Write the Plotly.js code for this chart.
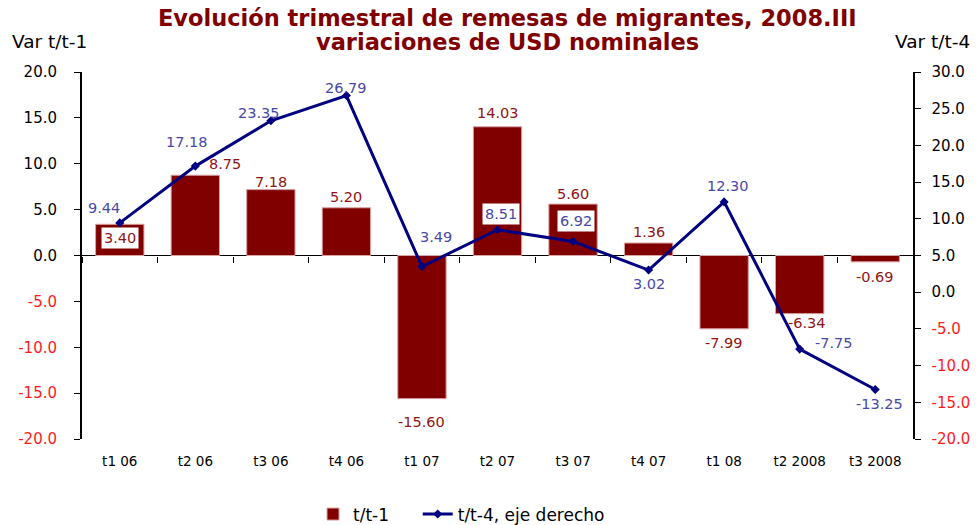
<!DOCTYPE html>
<html><head><meta charset="utf-8">
<script src="https://cdn.plot.ly/plotly-3.0.1.min.js"></script>
<style>html,body{margin:0;padding:0;background:#fff}#chart{width:977px;height:525px}</style>
</head><body><div id="chart"></div>
<script>
var categories = ["t1 06","t2 06","t3 06","t4 06","t1 07","t2 07","t3 07","t4 07","t1 08","t2 2008","t3 2008"];
var tt1 = [3.40, 8.75, 7.18, 5.20, -15.60, 14.03, 5.60, 1.36, -7.99, -6.34, -0.69];
var tt4 = [9.44, 17.18, 23.35, 26.79, 3.49, 8.51, 6.92, 3.02, 12.30, -7.75, -13.25];
var leftTicks = [20, 15, 10, 5, 0, -5, -10, -15, -20];
var rightTicks = [30, 25, 20, 15, 10, 5, 0, -5, -10, -15, -20];
var titleLines = ["Evolución trimestral de remesas de migrantes, 2008.III", "variaciones de USD nominales"];

// label placement styles (pixel offsets)
var barLabelDx = [0, 30, 0, 0, 0, 0, 0, 0, 0, 7, 0];
var barLabelDy = [-14, 11, 8, 11, -23, 14, 10, 11, -14, -9, -15];
var barLabelBox = [true, false, false, false, false, false, false, false, false, false, false];
var lineLabelDx = [-16, -8, -12, 0, 14, 3, 3, 0, 4, 34, 4];
var lineLabelDy = [15, 24, 8, 8, 30, 16, 20, -14, 16, 6, -15];
var lineLabelBox = [false, false, false, false, false, true, true, false, false, false, false];

var FONT = "DejaVu Sans, Verdana, sans-serif";
var RED = "#8f1414", BLUE = "#4848a8";

function tickText(vals){
  return vals.map(function(v){
    var s = v.toFixed(1);
    return v < 0 ? '<span style="color:#ff1a1a">' + s + '</span>' : s;
  });
}

var traces = [
  {type:"bar", name:"t/t-1", x:categories, y:tt1, width:0.64,
   marker:{color:"#800000", line:{color:"#d9a3a3", width:1}},
   xaxis:"x", yaxis:"y", hoverinfo:"skip", legend:"legend"},
  {type:"scatter", mode:"lines+markers", name:"t/t-4, eje derecho", x:categories, y:tt4,
   line:{color:"#000080", width:3}, marker:{color:"#000080", size:7, symbol:"diamond"},
   xaxis:"x2", yaxis:"y2", hoverinfo:"skip", legend:"legend2"}
];

var annotations = [];
for (var i=0;i<categories.length;i++){
  var a = {xref:"x", yref:"y", x:categories[i], y:tt1[i], xshift:barLabelDx[i], yshift:barLabelDy[i], showarrow:false,
    text:tt1[i].toFixed(2), font:{family:FONT, size:14.5, color:RED}};
  if (barLabelBox[i]) { a.bgcolor = "#ffffff"; a.borderpad = 2; }
  annotations.push(a);
  var b = {xref:"x", yref:"y2", x:categories[i], y:tt4[i], xshift:lineLabelDx[i], yshift:lineLabelDy[i], showarrow:false,
    text:tt4[i].toFixed(2), font:{family:FONT, size:14.5, color:BLUE}};
  if (lineLabelBox[i]) { b.bgcolor = "#ffffff"; b.borderpad = 2; }
  annotations.push(b);
}
annotations.push({xref:"paper", yref:"paper", x:0.512, y:1.147, xanchor:"center", yanchor:"middle", showarrow:false,
  text:"<b>" + titleLines[0] + "</b>", font:{family:FONT, size:22.5, color:"#800000"}});
annotations.push({xref:"paper", yref:"paper", x:0.512, y:1.082, xanchor:"center", yanchor:"middle", showarrow:false,
  text:"<b>" + titleLines[1] + "</b>", font:{family:FONT, size:22.5, color:"#800000"}});
annotations.push({xref:"paper", yref:"paper", x:-0.0866, y:1.082, xanchor:"left", yanchor:"middle", showarrow:false,
  text:"Var t/t-1", font:{family:FONT, size:18.5, color:"#000"}});
annotations.push({xref:"paper", yref:"paper", x:1.071, y:1.082, xanchor:"right", yanchor:"middle", showarrow:false,
  text:"Var t/t-4", font:{family:FONT, size:18.5, color:"#000"}});

var legendFont = {family:FONT, size:17, color:"#000"};
var layout = {
  width:977, height:525,
  margin:{l:82, r:64, t:72, b:86, autoexpand:false},
  paper_bgcolor:"#fff", plot_bgcolor:"#fff",
  showlegend:true,
  legend:{orientation:"h", x:0.278, xanchor:"left", yref:"container", y:0.02, yanchor:"middle",
    font:legendFont, itemwidth:30, bgcolor:"rgba(0,0,0,0)"},
  legend2:{orientation:"h", x:0.404, xanchor:"left", yref:"container", y:0.02, yanchor:"middle",
    font:legendFont, itemwidth:30, bgcolor:"rgba(0,0,0,0)"},
  xaxis:{type:"category", categoryarray:categories, range:[-0.5,10.5], showline:false, ticks:"",
    showgrid:false, zeroline:false, ticklabelstandoff:12,
    tickfont:{family:FONT, size:13.5, color:"#000"}},
  xaxis2:{type:"category", categoryarray:categories, range:[-0.5,10.5], overlaying:"x", anchor:"free", position:0.5,
    showticklabels:false, ticks:"outside", tickson:"boundaries", ticklen:6, tickcolor:"#000",
    showgrid:false, showline:false, zeroline:false},
  yaxis:{range:[-20,20], tickvals:leftTicks, ticktext:tickText(leftTicks), ticks:"outside", ticklen:6, tickcolor:"#000",
    showline:true, linecolor:"#000", linewidth:2, showgrid:false, ticklabelstandoff:14,
    zeroline:true, zerolinecolor:"#000", zerolinewidth:1.5,
    tickfont:{family:FONT, size:15, color:"#000"}},
  yaxis2:{range:[-20,30], overlaying:"y", side:"right", anchor:"x2", tickvals:rightTicks, ticktext:tickText(rightTicks),
    ticks:"outside", ticklen:6, tickcolor:"#000", showline:true, linecolor:"#000", linewidth:1.5, ticklabelstandoff:8,
    showgrid:false, zeroline:false, tickfont:{family:FONT, size:15, color:"#000"}},
  annotations:annotations
};

Plotly.newPlot("chart", traces, layout, {displayModeBar:false, staticPlot:true});
</script>
</body></html>
